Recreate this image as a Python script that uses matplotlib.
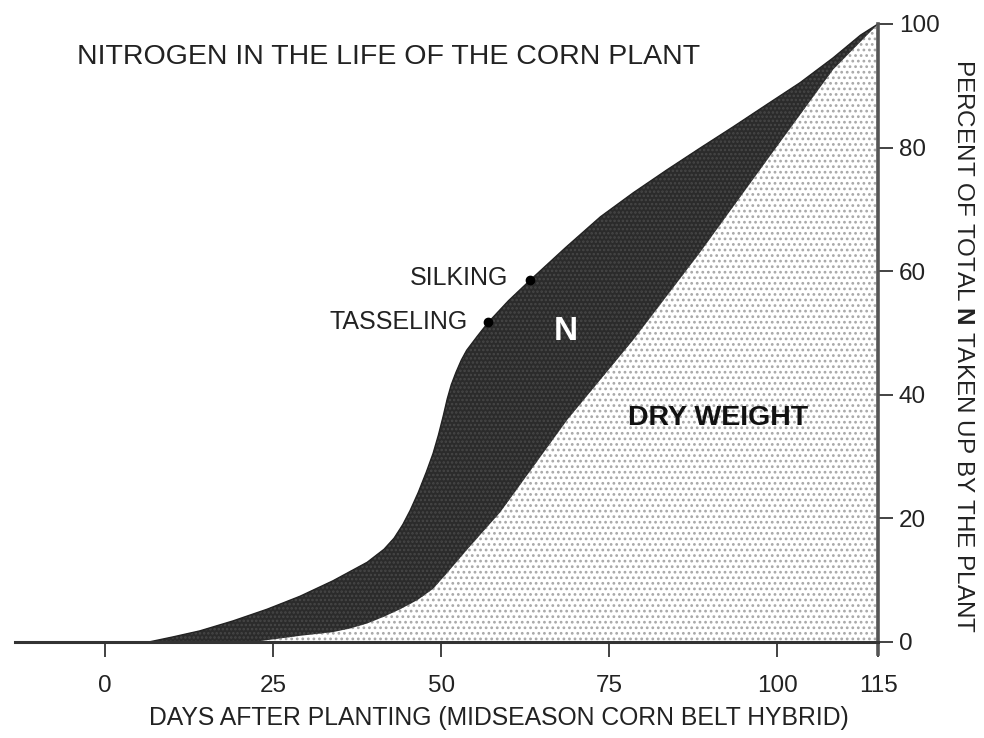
import matplotlib
matplotlib.use("Agg")
import matplotlib.pyplot as plt

plt.rcParams['font.family'] = ['Liberation Sans', 'DejaVu Sans']
plt.rcParams['mathtext.fontset'] = 'custom'
plt.rcParams['mathtext.rm'] = 'Liberation Sans'
plt.rcParams['mathtext.bf'] = 'Liberation Sans:bold'
plt.rcParams['hatch.linewidth'] = 1.2

# Data (days after planting, percent of total)
n_days = [6.5, 10.0, 14.1, 19.0, 24.1, 29.0, 33.9, 39.0, 41.5, 43.0, 44.3, 45.4,
          46.6, 47.8, 48.8, 49.6, 50.3, 50.9, 51.5, 52.2, 53.0, 53.8, 55.4, 57.0,
          60.0, 63.2, 68.5, 73.7, 78.6, 83.6, 88.5, 93.5, 98.5, 103.4, 108.3,
          112.4, 115.0]
n_pct = [0.0, 0.8, 1.8, 3.4, 5.3, 7.4, 9.9, 12.9, 15.0, 16.8, 19.0, 21.3,
         24.2, 27.5, 30.5, 33.5, 36.5, 39.3, 41.6, 43.6, 45.6, 47.2, 49.5, 51.7,
         55.2, 58.5, 63.8, 68.8, 72.7, 76.4, 79.9, 83.4, 87.0, 90.5, 94.5,
         98.2, 100.0]

dw_days = [22.0, 29.0, 33.9, 36.5, 39.0, 41.5, 43.9, 46.5, 48.8, 51.0, 53.9,
           58.8, 68.8, 78.6, 88.5, 98.5, 108.3, 115.0]
dw_pct = [0.0, 1.0, 1.6, 2.2, 3.0, 4.1, 5.3, 6.8, 8.6, 11.3, 15.0,
          21.0, 36.0, 48.9, 63.0, 78.0, 92.6, 100.0]

stage_names = ["TASSELING", "SILKING"]
stage_days = [57.0, 63.2]
stage_pct = [51.7, 58.5]

x_ticks = [0, 25, 50, 75, 100, 115]
y_ticks = [0, 20, 40, 60, 80, 100]

fig = plt.figure(figsize=(9.84, 7.38), dpi=100)
ax = fig.add_axes([15/984, 1 - 642/738, (878 - 15)/984, (642 - 24)/738])
ax.set_xlim(-13.4, 115)
ax.set_ylim(0, 100)

# Dry weight region (dotted)
ax.fill(dw_days + [dw_days[-1], dw_days[0]], dw_pct + [0, 0],
        facecolor='white', edgecolor='#a8a8a8', hatch='...', linewidth=0, zorder=1)

# Nitrogen region between N curve and dry weight curve
poly_x = n_days + dw_days[::-1] + [n_days[0]]
poly_y = n_pct + dw_pct[::-1] + [0]
ax.fill(poly_x, poly_y, facecolor='#2b2b2b', edgecolor='#474747', hatch='....',
        linewidth=0, zorder=2)
ax.plot(n_days, n_pct, color='#222222', lw=1.0, zorder=3)

# Stage markers
ax.scatter(stage_days, stage_pct, s=36, color='black', zorder=5)
ax.text(stage_days[0] - 3.0, stage_pct[0], stage_names[0], ha='right', va='center',
        fontsize=18, color='#222222')
ax.text(stage_days[1] - 3.2, stage_pct[1] + 0.4, stage_names[1], ha='right', va='center',
        fontsize=18, color='#222222')

ax.text(68.6, 50.3, "N", color='white', fontsize=24, fontweight='bold',
        ha='center', va='center', zorder=6)
ax.text(91.2, 36.3, "DRY WEIGHT", color='#111111', fontsize=20.5, fontweight='bold',
        ha='center', va='center', zorder=6)

# Axes styling
for s in ['top', 'left']:
    ax.spines[s].set_visible(False)
ax.spines['bottom'].set_linewidth(2.2)
ax.spines['bottom'].set_color('#333333')
ax.spines['right'].set_linewidth(2.6)
ax.spines['right'].set_color('#555555')
ax.spines['right'].set_bounds(-2, 100)
ax.spines['right'].set_zorder(7)
ax.spines['bottom'].set_zorder(7)

ax.set_xticks(x_ticks)
ax.set_xticklabels([str(v) for v in x_ticks])
ax.tick_params(axis='x', direction='out', length=11, width=1.2, pad=13,
               labelsize=17.5, colors='#222222')
ax.yaxis.tick_right()
ax.set_yticks(y_ticks)
ax.set_yticklabels([str(v) for v in y_ticks])
ax.tick_params(axis='y', direction='out', length=11, width=1.2, pad=4,
               labelsize=17.5, colors='#222222')

fig.text(389/984, 1 - 57/738, "NITROGEN IN THE LIFE OF THE CORN PLANT",
         ha='center', va='center', fontsize=20.5, color='#222222')
fig.text(499/984, 1 - 718/738, "DAYS AFTER PLANTING (MIDSEASON CORN BELT HYBRID)",
         ha='center', va='center', fontsize=17.8, color='#222222')
fig.text(963/984, 1 - 346/738, r"PERCENT OF TOTAL $\mathbf{N}$ TAKEN UP BY THE PLANT",
         ha='center', va='center', rotation=270, fontsize=17.5, color='#222222')

fig.savefig("out.png", dpi=100, facecolor='white')
